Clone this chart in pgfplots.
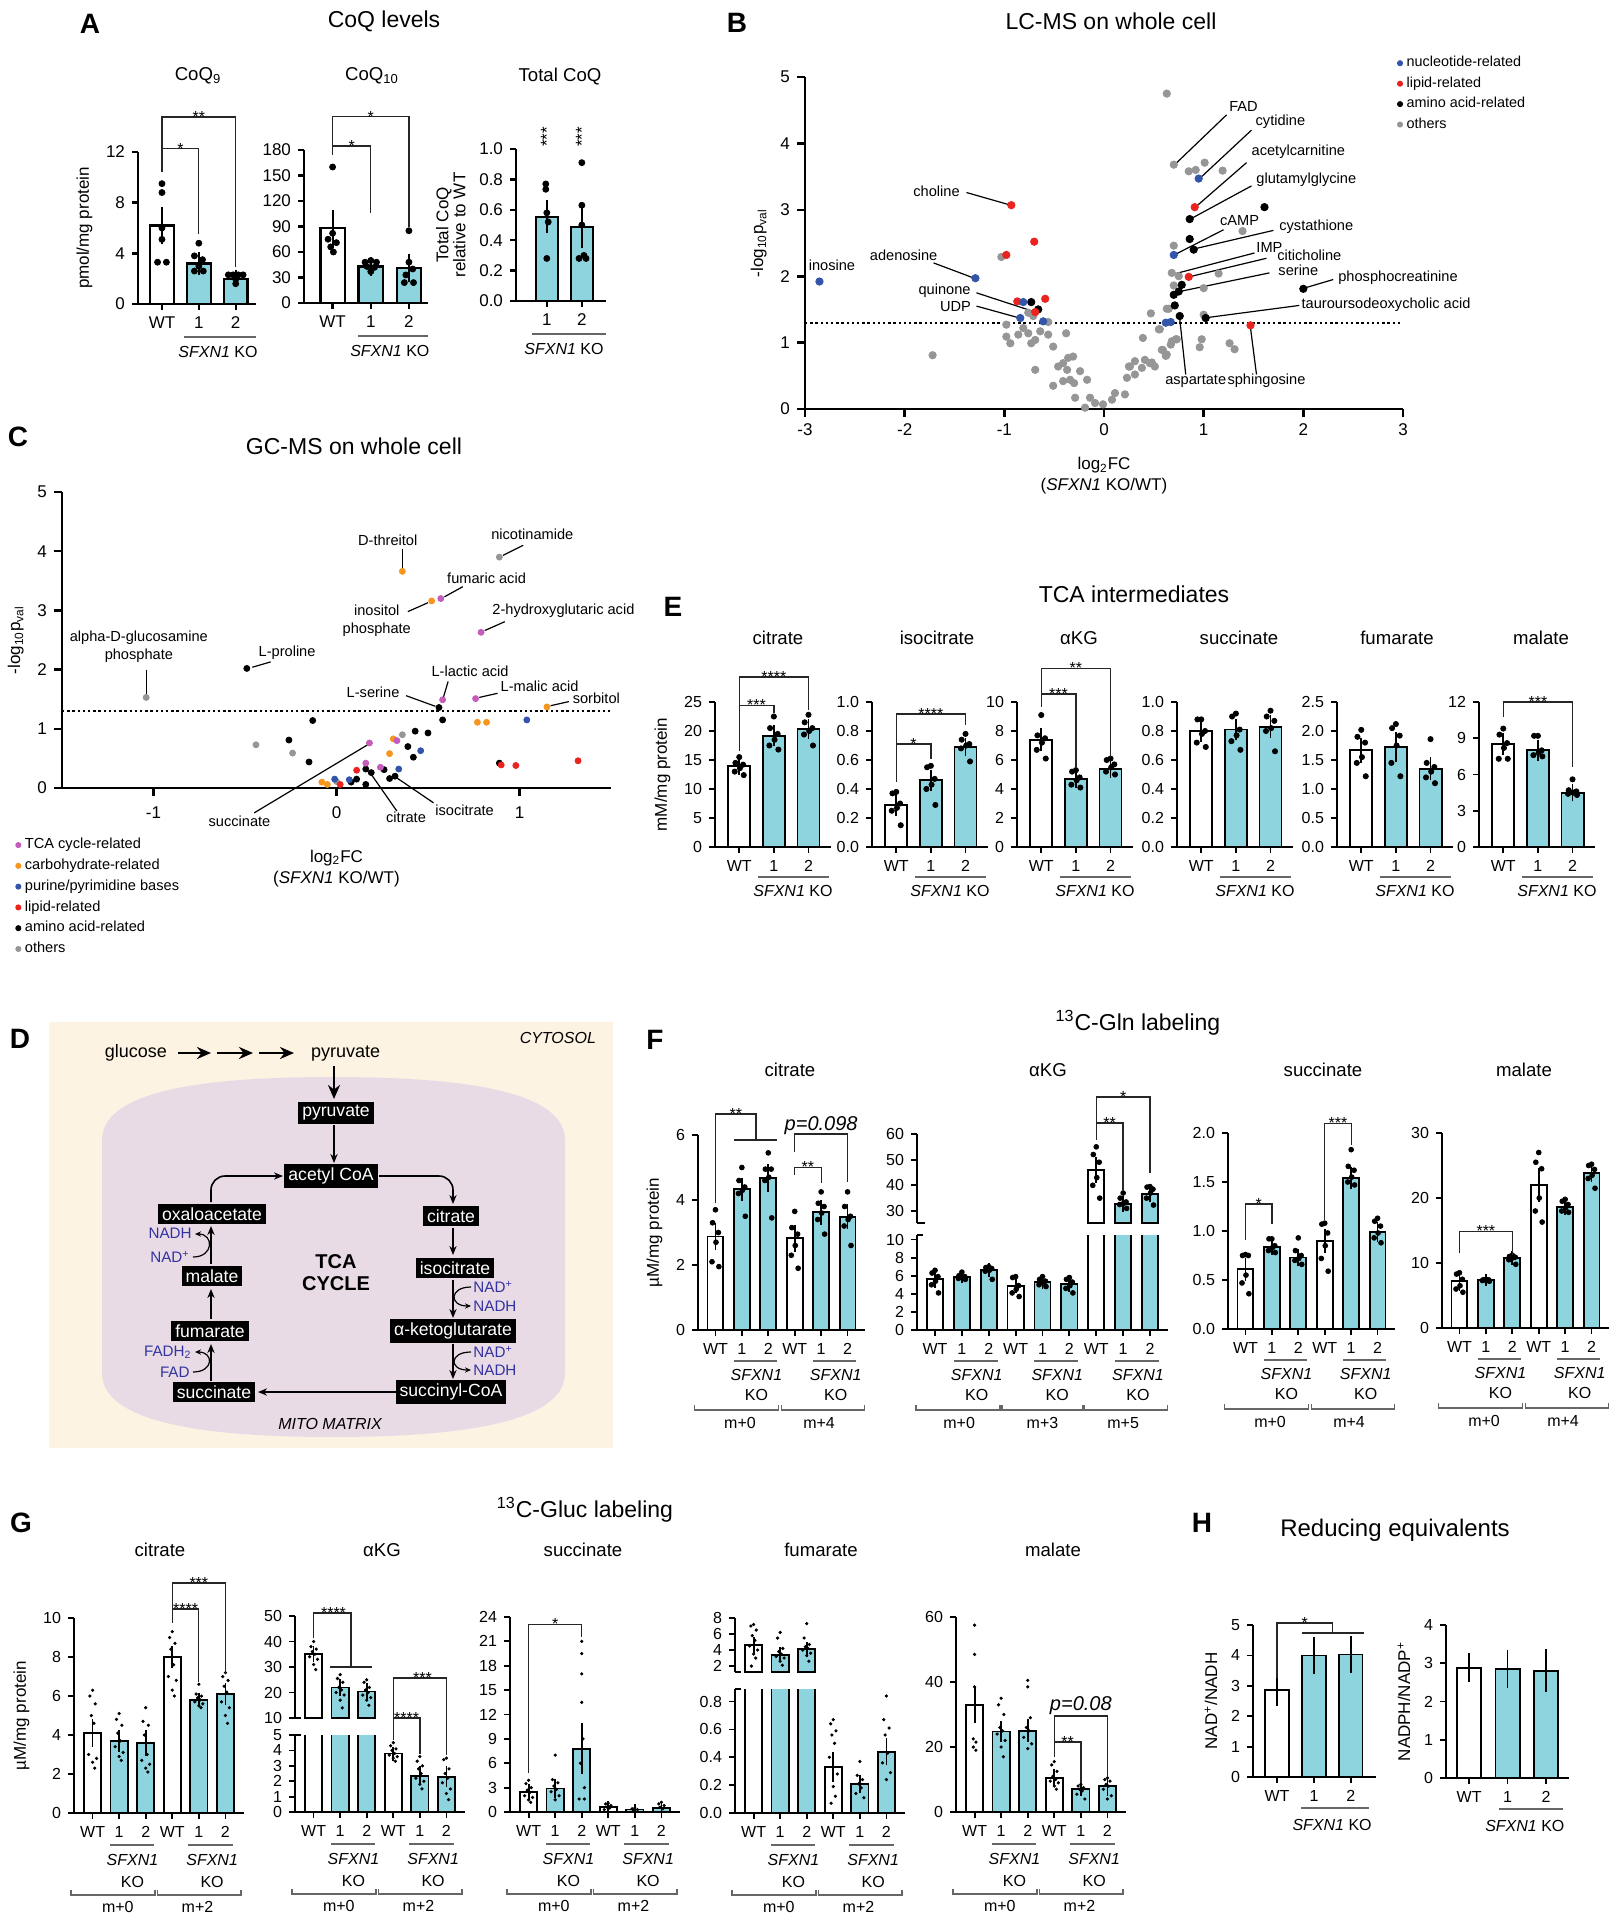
\documentclass[border=0pt]{standalone}
\usepackage{fontspec}
\setmainfont{Liberation Sans}
\usepackage{pgfplots}
\pgfplotsset{compat=1.18}
\usetikzlibrary{arrows.meta}
\definecolor{cy}{RGB}{141,212,222}
\definecolor{nblue}{RGB}{50,85,170}
\definecolor{lred}{RGB}{235,35,30}
\definecolor{ogray}{RGB}{150,150,150}
\definecolor{tcam}{RGB}{196,92,188}
\definecolor{carbo}{RGB}{247,150,30}
\definecolor{cream}{RGB}{253,243,226}
\definecolor{mauve}{RGB}{233,219,229}
\definecolor{dblue}{RGB}{50,50,160}
\newcommand\fs[1]{\fontsize{#1}{#1}\selectfont}
\tikzset{
 tl/.style={font=\fs{8}, inner sep=0pt, anchor=center},
 bk/.style={line width=0.65pt, black!85},
 st/.style={font=\fs{8}, anchor=base, yshift=-2.6pt, inner sep=0pt},
 ul/.style={line width=0.6pt, black!60},
 lab/.style={font=\fs{7.3}, inner sep=0pt},
 ld/.style={line width=0.6pt, black},
 ar/.style={-{Stealth[length=4.5pt,width=3.6pt]}, line width=0.8pt},
 car/.style={-{Stealth[length=3pt,width=2.6pt]}, line width=0.6pt},
 bx/.style={fill=black, text=white, font=\fs{8.8}, inner xsep=2pt, inner ysep=1.8pt},
 cof/.style={font=\fs{7.6}, text=dblue, inner sep=0.5pt},
}
\newcommand\koone[3]{%
 \draw[ul] ([yshift=-\ulY]axis cs:#1,0) -- ([yshift=-\ulY]axis cs:#2,0);
 \node[tl] at ([yshift=-\skY]axis cs:#3,0) {\textit{SFXN1} KO};}
\newcommand\koann[3]{%
 \draw[ul] ([yshift=-\ulY]axis cs:#1,0) -- ([yshift=-\ulY]axis cs:#2,0);
 \node[tl] at ([yshift=-\skY]axis cs:#3,0) {\textit{SFXN1}};
 \node[tl] at ([yshift=-\koY]axis cs:#3,0) {KO};}
\newcommand\grpann[4]{%
 \draw[ul] ([yshift=-\gbY+2.5pt]axis cs:#1,0) -- ([yshift=-\gbY]axis cs:#1,0) -- ([yshift=-\gbY]axis cs:#2,0) -- ([yshift=-\gbY+2.5pt]axis cs:#2,0);
 \node[tl] at ([yshift=-\gmY]axis cs:#3,0) {#4};}
\pgfplotsset{
 pos/.style 2 args={at={({#1*0.5pt},{-#2*0.5pt})}, anchor=south west},
 bp/.style={scale only axis, axis lines=left, axis line style={-, line width=0.9pt}, tick style={black, line width=0.9pt}, major tick length=3pt, tick align=outside, ticklabel style={font=\fs{8}}, label style={font=\fs{8.5}}, ymin=0, clip mode=individual},
 b3/.style={bp, xmin=-0.7, xmax=2.65, xtick={0,1,2}, xticklabels={WT,1,2}},
 b6/.style={bp, xmin=-0.66, xmax=5.66, xtick={0,1,2,3,4,5}, xticklabels={WT,1,2,WT,1,2}},
 wb/.style={ybar, bar shift=0pt, bar width=0.64, fill=white, draw=black, line width=0.9pt, /pgfplots/error bars/y dir=both, /pgfplots/error bars/y explicit, /pgfplots/error bars/error bar style={line width=0.9pt, black}, /pgfplots/error bars/error mark options={mark size=2.5pt, line width=0.9pt, black}},
 cb/.style={wb, fill=cy},
 dt/.style={only marks, mark=*, mark size=#1, black, mark options={fill=black, draw=black}},
 dt/.default=1.3pt,
}
\begin{document}
\begin{tikzpicture}
\begin{scope}[x=0.5pt,y=-0.5pt]
\path[use as bounding box] (0,0) rectangle (1618,1920);
% ---------- titles
\node[font=\bfseries\fs{14}] at (90,24) {A};
\node[font=\fs{11.5}] at (384,21) {CoQ levels};
\node[font=\fs{9.3}] at (198,76) {CoQ\textsubscript{9}};
\node[font=\fs{9.3}] at (372,76) {CoQ\textsubscript{10}};
\node[font=\fs{9.3}] at (560,77) {Total CoQ};
\node[font=\bfseries\fs{14}] at (737,23) {B};
\node[font=\fs{11.5}] at (1111,21) {LC-MS on whole cell};
\node[font=\bfseries\fs{14}] at (18,437) {C};
\node[font=\fs{11.5}] at (354,446) {GC-MS on whole cell};
\node[font=\bfseries\fs{14}] at (20,1039) {D};
\node[font=\bfseries\fs{14}] at (673,607) {E};
\node[font=\fs{11.5}] at (1134,594) {TCA intermediates};
\foreach \xx/\tt in {778/citrate,937/isocitrate,1079/αKG,1239/succinate,1397/fumarate,1541/malate}
 \node[font=\fs{9.3}] at (\xx,638) {\tt};
\node[font=\bfseries\fs{14}] at (655,1040) {F};
\node[font=\fs{11.5}] at (1138,1023) {\textsuperscript{13}C-Gln labeling};
\foreach \xx/\tt in {790/citrate,1048/αKG,1323/succinate,1524/malate}
 \node[font=\fs{9.3}] at (\xx,1070) {\tt};
\node[font=\bfseries\fs{14}] at (21,1523) {G};
\node[font=\fs{11.5}] at (585,1510) {\textsuperscript{13}C-Gluc labeling};
\foreach \xx/\tt in {160/citrate,382/αKG,583/succinate,821/fumarate,1053/malate}
 \node[font=\fs{9.3}] at (\xx,1550) {\tt};
\node[font=\bfseries\fs{14}] at (1202,1523) {H};
\node[font=\fs{12}] at (1395,1530) {Reducing equivalents};
% ---------- D diagram
\fill[cream] (49,1022) rectangle (613,1448);
\fill[mauve] (102,1373) -- (102,1140) .. controls (102,1088) and (215,1077) .. (332,1077) .. controls (450,1077) and (565,1088) .. (565,1140) -- (565,1373) .. controls (565,1425) and (450,1437) .. (332,1437) .. controls (215,1437) and (102,1425) .. (102,1373) -- cycle;
\node[font=\itshape\fs{8}, anchor=east] at (603,1038) {CYTOSOL};
\node[font=\itshape\fs{8}] at (330,1424) {MITO MATRIX};
\node[font=\fs{9}, anchor=east] at (174,1053) {glucose};
\foreach \a/\b in {178/211, 217/253, 259/294} \draw[-{Stealth[length=7pt,width=6pt]}, line width=1.4pt] (\a,1053) -- (\b,1053);
\node[font=\fs{9}, anchor=west] at (304,1054) {pyruvate};
\draw[-{Stealth[length=7pt,width=6pt]}, line width=1.4pt] (334,1066) -- (334,1099);
\node[bx] at (336,1113) {pyruvate};
\node[bx] at (331,1176) {acetyl CoA};
\node[bx] at (212,1214) {oxaloacetate};
\node[bx] at (451,1216) {citrate};
\node[bx] at (455,1268) {isocitrate};
\node[bx] at (453,1331) {α-ketoglutarate};
\node[bx] at (451,1392) {succinyl-CoA};
\node[bx] at (214,1392) {succinate};
\node[bx] at (210,1331) {fumarate};
\node[bx] at (212,1276) {malate};
\node[font=\bfseries\fs{10}, align=center] at (336,1273) {TCA\\[1pt]CYCLE};
\draw[ar] (334,1125) -- (334,1163);
\draw[ar, rounded corners=7pt] (379,1176) -- (453,1176) -- (453,1204);
\draw[ar, rounded corners=7pt] (211,1202) -- (211,1176) -- (283,1176);
\draw[ar] (453,1228) -- (453,1255);
\draw[ar] (453,1280) -- (453,1318);
\draw[ar] (453,1344) -- (453,1379);
\draw[ar] (398,1392) -- (258,1392);
\draw[ar] (211,1381) -- (211,1344);
\draw[ar] (211,1319) -- (211,1289);
\draw[ar] (211,1264) -- (211,1226);
\draw[car] (471,1287) .. controls (449,1287) and (449,1306) .. (471,1306);
\node[cof, anchor=west] at (472,1287) {NAD\textsuperscript{+}};
\node[cof, anchor=west] at (472,1306) {NADH};
\draw[car] (471,1352) .. controls (449,1352) and (449,1370) .. (471,1370);
\node[cof, anchor=west] at (472,1352) {NAD\textsuperscript{+}};
\node[cof, anchor=west] at (472,1370) {NADH};
\draw[car] (193,1372) .. controls (214,1372) and (214,1352) .. (195,1352);
\node[cof, anchor=east] at (193,1352) {FADH\textsubscript{2}};
\node[cof, anchor=east] at (191,1372) {FAD};
\draw[car] (193,1257) .. controls (214,1257) and (214,1234) .. (195,1234);
\node[cof, anchor=east] at (193,1233) {NADH};
\node[cof, anchor=east] at (191,1257) {NAD\textsuperscript{+}};
\end{scope}

% ================= A
\def\ulY{16.5pt}\def\skY{24pt}
\begin{axis}[b3, pos={138}{304}, width=59pt, height=76pt, xmin=-0.65, xmax=2.55, ymax=12, ytick={0,4,8,12}, yticklabels={0,4,8,12}, ylabel={pmol/mg protein}, axis line style={-,line width=1.2pt}, tick style={line width=1.2pt}, ticklabel style={font=\fs{8.5}}]
\addplot[wb, line width=1.1pt] coordinates {(0,6.2) +- (0,1.1)};
\addplot[cb, line width=1.1pt] coordinates {(1,3.2) +- (0,0.5) (2,2.0) +- (0,0.25)};
\addplot[dt=1.5pt] coordinates {(0,9.5) (0,8.8) (0,6.0) (0,5.1) (-0.12,3.3) (0.12,3.3) (1,4.8) (0.88,3.8) (1.1,3.5) (1,3.0) (0.88,2.6) (1.12,2.6) (1.8,2.3) (1.93,2.3) (2.07,2.3) (2.2,2.3) (2,1.95) (2,1.6)};
\draw[bk] (axis cs:0,10.4) -- (axis cs:0,14.76) -- (axis cs:2,14.76) -- (axis cs:2,2.9);
\draw[bk] (axis cs:0,12.25) -- (axis cs:1,12.25) -- (axis cs:1,5.5);
\node[st] at (axis cs:0.5,12.25) {*};
\node[st] at (axis cs:1,14.76) {**};
\koone{0.6}{2.55}{1.52}
\end{axis}
\begin{axis}[b3, pos={304}{303}, width=62pt, height=76.5pt, xmin=-0.75, xmax=2.5, ymax=180, ytick={0,30,60,90,120,150,180}, yticklabels={0,30,60,90,120,150,180}, axis line style={-,line width=1.2pt}, tick style={line width=1.2pt}, ticklabel style={font=\fs{8.5}}]
\addplot[wb, line width=1.1pt] coordinates {(0,88) +- (0,15)};
\addplot[cb, line width=1.1pt] coordinates {(1,43) +- (0,5) (2,41) +- (0,11)};
\addplot[dt=1.5pt] coordinates {(0,160) (0,82) (-0.12,75) (0.1,71) (-0.05,66) (0.02,60) (0.85,48) (1,50) (1.15,48) (0.9,43) (1.1,42) (1,37) (2,85) (2,48) (2.1,40) (1.92,33) (1.88,24) (2.12,24)};
\draw[bk] (axis cs:0,174) -- (axis cs:0,219) -- (axis cs:2,219) -- (axis cs:2,89.5);
\draw[bk] (axis cs:0,184.7) -- (axis cs:1,184.7) -- (axis cs:1,106);
\node[st] at (axis cs:0.5,184.7) {*};
\node[st] at (axis cs:1,219) {*};
\koone{0.67}{2.5}{1.5}
\end{axis}
\begin{axis}[bp, pos={516}{301}, width=45pt, height=76pt, xmin=0.12, xmax=2.69, xtick={1,2}, xticklabels={1,2}, ymax=1, ytick={0,0.2,0.4,0.6,0.8,1}, yticklabels={0.0,0.2,0.4,0.6,0.8,1.0}, ylabel={Total CoQ\\relative to WT}, ylabel style={align=center}, axis line style={-,line width=1.2pt}, tick style={line width=1.2pt}, ticklabel style={font=\fs{8.5}}]
\addplot[cb, line width=1.1pt] coordinates {(1,0.555) +- (0,0.078) (2,0.485) +- (0,0.105)};
\addplot[dt=1.5pt] coordinates {(0.97,0.77) (0.97,0.735) (1,0.58) (1.04,0.52) (1,0.28) (2,0.91) (2,0.63) (2,0.5) (1.92,0.28) (2.06,0.3) (2.12,0.28)};
\node[rotate=90, font=\fs{8.5}] at (axis cs:1,1.08) {***};
\node[rotate=90, font=\fs{8.5}] at (axis cs:2,1.08) {***};
\koone{0.58}{2.69}{1.49}
\end{axis}

% ================= B
\begin{axis}[scale only axis, pos={805}{409}, width=299pt, height=166pt, xmin=-3, xmax=3, ymin=0, ymax=5, axis lines=left, axis line style={-, line width=1.3pt}, tick style={black, line width=1.3pt}, major tick length=4pt, tick align=outside, xtick={-3,-2,-1,0,1,2,3}, xticklabels={-3,-2,-1,0,1,2,3}, ytick={0,1,2,3,4,5}, yticklabels={0,1,2,3,4,5}, ticklabel style={font=\fs{8.5}}, clip=false,
 xlabel={log\textsubscript{2}FC\\(\textit{SFXN1} KO/WT)}, xlabel style={align=center, font=\fontsize{8.5}{10.5}\selectfont, at={(axis description cs:0.5,-0.125)}, anchor=north},
 ylabel={-log\textsubscript{10}p\textsubscript{val}}, ylabel style={font=\fs{8.5}},
 legend image code/.code={\draw[#1, mark size=1.3pt] plot coordinates {(0.1cm,0cm)};},
 legend style={at={(0.99,1.075)}, anchor=north west, draw=none, fill=none, font=\fs{7.2}, row sep=-0.5pt, inner sep=0pt}, legend cell align=left, reverse legend]
\addplot[black, line width=1.1pt, dash pattern=on 1.2pt off 1.4pt, forget plot] coordinates {(-3,1.3) (3,1.3)};
\addplot[only marks, mark=*, mark size=1.85pt, color=ogray] coordinates {(-1.03,2.29) (-1.72,0.81) (-0.98,1.27) (-0.98,1.09) (-0.94,0.99) (-0.86,1.12) (-0.81,1.22) (-0.76,1.14) (-0.73,0.99) (-0.69,1.04) (-0.64,1.17) (-0.56,1.31) (-0.56,1.12) (-0.51,0.94) (-0.38,1.14) (-0.69,0.59) (-0.51,0.35) (-0.46,0.64) (-0.41,0.69) (-0.36,0.77) (-0.31,0.79) (-0.37,0.59) (-0.34,0.44) (-0.41,0.42) (-0.30,0.39) (-0.24,0.57) (-0.17,0.44) (-0.29,0.17) (-0.19,0.02) (-0.14,0.17) (-0.09,0.09) (-0.01,0.07) (0.08,0.14) (0.11,0.24) (0.21,0.22) (0.23,0.47) (0.31,0.52) (0.26,0.64) (0.31,0.72) (0.38,0.62) (0.41,0.74) (0.46,0.69) (0.51,0.64) (0.39,1.07) (0.47,1.44) (0.55,1.20) (0.58,0.89) (0.63,0.82) (0.68,1.02) (0.73,1.05) (0.63,1.51) (0.63,4.75) (0.70,3.68) (0.85,3.58) (0.92,3.60) (1.01,3.71) (1.19,3.59) (1.39,2.68) (0.70,2.46) (0.68,2.05) (0.75,2.0) (1.15,2.04) (0.70,1.86) (1.0,1.82) (0.65,1.51) (1.0,1.42) (0.56,1.20) (0.72,1.05) (0.67,0.97) (0.98,1.05) (0.96,0.93) (1.26,0.99) (1.31,0.90) (0.59,0.89) (0.62,0.80) (-0.76,1.45) (-0.71,1.40) (0.25,0.64) (0.48,0.70)};
\addlegendentry{others}
\addplot[only marks, mark=*, mark size=1.85pt, color=black] coordinates {(-0.73,1.61) (-0.66,1.50) (0.86,2.86) (1.61,3.04) (0.86,2.56) (0.90,2.40) (0.78,1.87) (0.75,1.77) (0.70,1.72) (2.0,1.81) (0.71,1.56) (0.76,1.40) (1.02,1.37)};
\addlegendentry{amino acid-related}
\addplot[only marks, mark=*, mark size=1.85pt, color=lred] coordinates {(-0.93,3.07) (-0.70,2.52) (-0.98,2.32) (-0.87,1.62) (-0.59,1.66) (-0.69,1.46) (0.91,3.04) (0.85,1.99) (1.47,1.26)};
\addlegendentry{lipid-related}
\addplot[only marks, mark=*, mark size=1.85pt, color=nblue] coordinates {(-2.855,1.92) (-1.29,1.97) (-0.81,1.61) (-0.84,1.37) (-0.61,1.32) (0.95,3.47) (0.70,2.32) (0.62,1.30) (0.67,1.31)};
\addlegendentry{nucleotide-related}
\node[lab] at (axis cs:-1.68,3.28) {choline}; \draw[ld] (axis cs:-1.38,3.26) -- (axis cs:-0.96,3.08);
\node[lab] at (axis cs:-2.01,2.31) {adenosine}; \draw[ld] (axis cs:-1.71,2.20) -- (axis cs:-1.32,1.98);
\node[lab] at (axis cs:-2.73,2.17) {inosine};
\node[lab] at (axis cs:-1.60,1.78) {quinone}; \draw[ld] (axis cs:-1.28,1.75) -- (axis cs:-0.71,1.47);
\node[lab] at (axis cs:-1.49,1.55) {UDP}; \draw[ld] (axis cs:-1.28,1.55) -- (axis cs:-0.87,1.38);
\node[lab] at (axis cs:1.40,4.55) {FAD}; \draw[ld] (axis cs:1.23,4.43) -- (axis cs:0.73,3.71);
\node[lab] at (axis cs:1.77,4.32) {cytidine}; \draw[ld] (axis cs:1.48,4.20) -- (axis cs:0.98,3.50);
\node[lab] at (axis cs:1.95,3.88) {acetylcarnitine}; \draw[ld] (axis cs:1.43,3.71) -- (axis cs:0.94,3.07);
\node[lab] at (axis cs:2.03,3.45) {glutamylglycine}; \draw[ld] (axis cs:1.48,3.36) -- (axis cs:0.89,2.88);
\node[lab] at (axis cs:1.36,2.84) {cAMP}; \draw[ld] (axis cs:1.20,2.70) -- (axis cs:0.73,2.34);
\node[lab] at (axis cs:2.13,2.74) {cystathione}; \draw[ld] (axis cs:1.70,2.69) -- (axis cs:0.93,2.42);
\node[lab] at (axis cs:1.66,2.44) {IMP}; \draw[ld] (axis cs:1.51,2.35) -- (axis cs:0.72,2.04);
\node[lab] at (axis cs:2.06,2.32) {citicholine}; \draw[ld] (axis cs:1.63,2.27) -- (axis cs:0.88,2.0);
\node[lab] at (axis cs:1.95,2.09) {serine}; \draw[ld] (axis cs:1.66,2.05) -- (axis cs:0.76,1.77);
\node[lab] at (axis cs:2.95,1.98) {phosphocreatinine}; \draw[ld] (axis cs:2.30,1.95) -- (axis cs:2.03,1.83);
\node[lab] at (axis cs:2.83,1.57) {tauroursodeoxycholic acid}; \draw[ld] (axis cs:1.96,1.56) -- (axis cs:1.05,1.38);
\node[lab] at (axis cs:0.92,0.42) {aspartate}; \draw[ld] (axis cs:0.82,0.52) -- (axis cs:0.76,1.36);
\node[lab] at (axis cs:1.63,0.42) {sphingosine}; \draw[ld] (axis cs:1.53,0.52) -- (axis cs:1.47,1.22);
\end{axis}

% ================= C
\begin{axis}[scale only axis, pos={62}{788}, width=274.5pt, height=148pt, xmin=-1.5, xmax=1.5, ymin=0, ymax=5, axis lines=left, axis line style={-, line width=1.2pt}, tick style={black, line width=1.2pt}, major tick length=4pt, tick align=outside, xtick={-1,0,1}, xticklabels={-1,0,1}, ytick={0,1,2,3,4,5}, yticklabels={0,1,2,3,4,5}, ticklabel style={font=\fs{8.5}}, xticklabel style={yshift=-2pt}, clip=false,
 xlabel={log\textsubscript{2}FC\\(\textit{SFXN1} KO/WT)}, xlabel style={align=center, font=\fontsize{8.5}{10.5}\selectfont, at={(axis description cs:0.5,-0.185)}, anchor=north},
 ylabel={-log\textsubscript{10}p\textsubscript{val}}, ylabel style={font=\fs{8.5}},
 legend image code/.code={\draw[#1, mark size=1.3pt] plot coordinates {(0.1cm,0cm)};},
 legend style={at={(-0.085,-0.155)}, anchor=north west, draw=none, fill=none, font=\fs{7.3}, row sep=-0.4pt, inner sep=0pt}, legend cell align=left, reverse legend]
\addplot[black, line width=1.1pt, dash pattern=on 1.2pt off 1.4pt, forget plot] coordinates {(-1.5,1.3) (1.5,1.3)};
\addplot[only marks, mark=*, mark size=1.5pt, color=ogray] coordinates {(-1.04,1.53) (0.89,3.90) (-0.44,0.73) (-0.24,0.59) (0.36,0.90) (0.0,0.11)};
\addlegendentry{others}
\addplot[only marks, mark=*, mark size=1.5pt, color=black] coordinates {(-0.49,2.02) (0.56,1.36) (0.58,1.15) (-0.13,1.14) (-0.26,0.81) (-0.15,0.44) (0.43,0.96) (0.50,0.93) (0.39,0.70) (0.42,0.52) (0.16,0.32) (0.19,0.26) (0.26,0.31) (0.29,0.16) (0.32,0.20) (0.11,0.15) (0.08,0.10) (0.16,0.06) (0.89,0.42)};
\addlegendentry{amino acid-related}
\addplot[only marks, mark=*, mark size=1.5pt, color=lred] coordinates {(0.11,0.30) (0.02,0.06) (0.90,0.39) (0.98,0.38) (1.32,0.46)};
\addlegendentry{lipid-related}
\addplot[only marks, mark=*, mark size=1.5pt, color=nblue] coordinates {(1.04,1.15) (0.46,0.63) (0.34,0.32) (0.07,0.14) (-0.01,0.15)};
\addlegendentry{purine/pyrimidine bases}
\addplot[only marks, mark=*, mark size=1.5pt, color=carbo] coordinates {(0.36,3.66) (0.52,3.16) (1.15,1.37) (0.77,1.11) (0.82,1.11) (0.31,0.83) (0.29,0.58) (-0.08,0.10) (-0.05,0.06)};
\addlegendentry{carbohydrate-related}
\addplot[only marks, mark=*, mark size=1.5pt, color=tcam] coordinates {(0.57,3.20) (0.79,2.63) (0.58,1.49) (0.76,1.51) (0.18,0.76) (0.33,0.80) (0.16,0.42) (0.24,0.35)};
\addlegendentry{TCA cycle-related}
\node[lab, align=center, font=\fontsize{7.3}{9.2}\selectfont] at (axis cs:-1.08,2.39) {alpha-D-glucosamine\\phosphate}; \draw[ld] (axis cs:-1.04,2.0) -- (axis cs:-1.04,1.58);
\node[lab] at (axis cs:-0.27,2.29) {L-proline}; \draw[ld] (axis cs:-0.36,2.13) -- (axis cs:-0.46,2.04);
\node[lab] at (axis cs:0.28,4.19) {D-threitol}; \draw[ld] (axis cs:0.36,4.04) -- (axis cs:0.36,3.71);
\node[lab] at (axis cs:1.07,4.28) {nicotinamide}; \draw[ld] (axis cs:1.02,4.10) -- (axis cs:0.91,3.93);
\node[lab] at (axis cs:0.82,3.55) {fumaric acid}; \draw[ld] (axis cs:0.69,3.40) -- (axis cs:0.59,3.23);
\node[lab, align=center, font=\fontsize{7.3}{9.2}\selectfont] at (axis cs:0.22,2.83) {inositol\\phosphate}; \draw[ld] (axis cs:0.39,2.98) -- (axis cs:0.50,3.13);
\node[lab] at (axis cs:1.24,2.99) {2-hydroxyglutaric acid}; \draw[ld] (axis cs:0.92,2.81) -- (axis cs:0.81,2.66);
\node[lab] at (axis cs:0.73,1.98) {L-lactic acid}; \draw[ld] (axis cs:0.61,1.80) -- (axis cs:0.585,1.54);
\node[lab] at (axis cs:0.20,1.62) {L-serine}; \draw[ld] (axis cs:0.38,1.56) -- (axis cs:0.54,1.38);
\node[lab] at (axis cs:1.11,1.72) {L-malic acid}; \draw[ld] (axis cs:0.88,1.60) -- (axis cs:0.78,1.53);
\node[lab] at (axis cs:1.42,1.51) {sorbitol}; \draw[ld] (axis cs:1.27,1.46) -- (axis cs:1.17,1.39);
\node[lab] at (axis cs:-0.53,-0.57) {succinate}; \draw[ld] (axis cs:-0.45,-0.42) -- (axis cs:0.17,0.73);
\node[lab] at (axis cs:0.38,-0.49) {citrate}; \draw[ld] (axis cs:0.33,-0.39) -- (axis cs:0.19,0.23);
\node[lab] at (axis cs:0.70,-0.38) {isocitrate}; \draw[ld] (axis cs:0.53,-0.25) -- (axis cs:0.33,0.17);
\end{axis}

% ================= E
\def\ulY{15pt}\def\skY{22pt}
\begin{axis}[b3, pos={715}{847}, width=58pt, height=72.5pt, ymax=25, ytick={0,5,10,15,20,25}, yticklabels={0,5,10,15,20,25}, ylabel={mM/mg protein}]
\addplot[wb] coordinates {(0,13.9) +- (0,0.6)};
\addplot[cb] coordinates {(1,19.2) +- (0,0.9) (2,20.3) +- (0,0.85)};
\addplot[dt] coordinates {(0,15.5) (-0.11,14.5) (0.11,14.2) (0.02,13.6) (-0.13,13.0) (0.13,12.4) (1,22.5) (0.89,20.5) (1.11,19.5) (1.02,18.5) (0.87,17.5) (1.13,16.8) (2,22.8) (1.89,21.5) (2.11,20.5) (2.02,20) (1.87,19.4) (2.13,17.5)};
\draw[bk] (axis cs:0,16.5) -- (axis cs:0,29.3) -- (axis cs:2,29.3) -- (axis cs:2,23.6);
\draw[bk] (axis cs:0,24.4) -- (axis cs:1,24.4) -- (axis cs:1,23.1);
\node[st] at (axis cs:1,29.3) {****}; \node[st] at (axis cs:0.5,24.4) {***};
\koone{0.55}{2.6}{1.55}
\end{axis}
\begin{axis}[b3, pos={872}{847}, width=58pt, height=72.5pt, ymax=1, ytick={0,0.2,0.4,0.6,0.8,1}, yticklabels={0.0,0.2,0.4,0.6,0.8,1.0}]
\addplot[wb] coordinates {(0,0.29) +- (0,0.04)};
\addplot[cb] coordinates {(1,0.46) +- (0,0.04) (2,0.69) +- (0,0.025)};
\addplot[dt] coordinates {(0,0.38) (-0.11,0.37) (0.11,0.30) (0.02,0.27) (-0.13,0.25) (0.13,0.15) (1,0.56) (0.89,0.55) (1.11,0.47) (1.02,0.43) (0.87,0.40) (1.13,0.29) (2,0.78) (1.89,0.74) (2.11,0.71) (2.02,0.70) (1.87,0.68) (2.13,0.59)};
\draw[bk] (axis cs:0,0.45) -- (axis cs:0,0.917) -- (axis cs:2,0.917) -- (axis cs:2,0.84);
\draw[bk] (axis cs:0,0.71) -- (axis cs:1,0.71) -- (axis cs:1,0.61);
\node[st] at (axis cs:1,0.917) {****}; \node[st] at (axis cs:0.5,0.71) {*};
\koone{0.55}{2.6}{1.55}
\end{axis}
\begin{axis}[b3, pos={1017}{847}, width=58pt, height=72.5pt, ymax=10, ytick={0,2,4,6,8,10}, yticklabels={0,2,4,6,8,10}]
\addplot[wb] coordinates {(0,7.4) +- (0,0.45)};
\addplot[cb] coordinates {(1,4.7) +- (0,0.3) (2,5.4) +- (0,0.3)};
\addplot[dt] coordinates {(0,9.1) (-0.11,7.7) (0.11,7.5) (0.02,7.2) (-0.13,6.7) (0.13,6.1) (1,5.3) (0.89,5.2) (1.11,4.8) (1.02,4.6) (0.87,4.3) (1.13,4.1) (2,6.1) (1.89,6.0) (2.11,5.7) (2.02,5.5) (1.87,5.2) (2.13,5.0)};
\draw[bk] (axis cs:0,9.65) -- (axis cs:0,12.3) -- (axis cs:2,12.3) -- (axis cs:2,6.2);
\draw[bk] (axis cs:0,10.55) -- (axis cs:1,10.55) -- (axis cs:1,5.45);
\node[st] at (axis cs:1,12.3) {**}; \node[st] at (axis cs:0.5,10.55) {***};
\koone{0.55}{2.6}{1.55}
\end{axis}
\begin{axis}[b3, pos={1177}{847}, width=58pt, height=72.5pt, ymax=1, ytick={0,0.2,0.4,0.6,0.8,1}, yticklabels={0.0,0.2,0.4,0.6,0.8,1.0}]
\addplot[wb] coordinates {(0,0.80) +- (0,0.04)};
\addplot[cb] coordinates {(1,0.81) +- (0,0.04) (2,0.83) +- (0,0.045)};
\addplot[dt] coordinates {(0,0.88) (-0.11,0.88) (0.11,0.80) (0.02,0.78) (-0.13,0.72) (0.13,0.69) (1,0.92) (0.89,0.90) (1.11,0.81) (1.02,0.77) (0.87,0.73) (1.13,0.67) (2,0.94) (1.89,0.90) (2.11,0.87) (2.02,0.82) (1.87,0.80) (2.13,0.66)};
\koone{0.55}{2.6}{1.55}
\end{axis}
\begin{axis}[b3, pos={1337}{847}, width=58pt, height=72.5pt, ymax=2.5, ytick={0,0.5,1,1.5,2,2.5}, yticklabels={0.0,0.5,1.0,1.5,2.0,2.5}]
\addplot[wb] coordinates {(0,1.67) +- (0,0.13)};
\addplot[cb] coordinates {(1,1.73) +- (0,0.17) (2,1.35) +- (0,0.11)};
\addplot[dt] coordinates {(0,2.02) (-0.11,1.90) (0.11,1.80) (0.02,1.55) (-0.13,1.45) (0.13,1.22) (1,2.12) (0.89,2.05) (1.11,1.92) (1.02,1.75) (0.87,1.45) (1.13,1.22) (2,1.86) (1.89,1.45) (2.11,1.38) (2.02,1.30) (1.87,1.20) (2.13,1.10)};
\koone{0.55}{2.6}{1.55}
\end{axis}
\begin{axis}[b3, pos={1479}{847}, width=58pt, height=72.5pt, ymax=12, ytick={0,3,6,9,12}, yticklabels={0,3,6,9,12}]
\addplot[wb] coordinates {(0,8.5) +- (0,0.5)};
\addplot[cb] coordinates {(1,8.0) +- (0,0.45) (2,4.5) +- (0,0.3)};
\addplot[dt] coordinates {(0,9.8) (-0.11,9.3) (0.11,8.6) (0.02,8.2) (-0.13,7.3) (0.13,7.3) (1,9.2) (0.89,9.2) (1.11,8.0) (1.02,7.8) (0.87,7.6) (1.13,7.5) (2,5.6) (1.89,4.7) (2.11,4.6) (2.02,4.5) (1.87,4.4) (2.13,4.3)};
\draw[bk] (axis cs:0,10.76) -- (axis cs:0,12.0) -- (axis cs:2,12.0) -- (axis cs:2,6.6);
\node[st] at (axis cs:1,12.0) {***};
\koone{0.55}{2.6}{1.55}
\end{axis}

% ================= F
\def\ulY{15.5pt}\def\skY{22.5pt}\def\koY{32.5pt}\def\gbY{40pt}\def\gmY{46.5pt}
\begin{axis}[b6, pos={698}{1330}, width=83.5pt, height=97.5pt, ymax=6, ytick={0,2,4,6}, yticklabels={0,2,4,6}, ylabel={µM/mg protein}]
\addplot[wb, bar width=0.6] coordinates {(0,2.88) +- (0,0.27) (3,2.82) +- (0,0.27)};
\addplot[cb, bar width=0.6] coordinates {(1,4.33) +- (0,0.2) (2,4.68) +- (0,0.28) (4,3.62) +- (0,0.22) (5,3.48) +- (0,0.23)};
\addplot[dt=1.2pt] coordinates {(0,3.7) (-0.11,3.3) (0.11,3.0) (0.02,2.7) (-0.13,2.1) (0.13,1.95) (1,5.0) (0.89,4.6) (1.11,4.4) (1.02,4.3) (0.87,4.2) (1.13,3.5) (2,5.45) (1.89,4.95) (2.11,4.95) (2.02,4.7) (1.87,4.6) (2.13,3.45) (3,3.65) (2.89,3.15) (3.11,2.95) (3.02,2.6) (2.87,2.3) (3.13,1.9) (4,4.25) (3.89,3.9) (4.11,3.8) (4.02,3.6) (3.87,3.4) (4.13,2.95) (5,4.25) (4.89,3.8) (5.11,3.5) (5.02,3.4) (4.87,3.2) (5.13,2.6)};
\draw[bk] (axis cs:0,3.9) -- (axis cs:0,6.65) -- (axis cs:1.54,6.65) -- (axis cs:1.54,5.85);
\draw[bk] (axis cs:0.7,5.85) -- (axis cs:2.33,5.85);
\node[st] at (axis cs:0.77,6.65) {**};
\draw[bk] (axis cs:3,5.48) -- (axis cs:3,6.03) -- (axis cs:5,6.03) -- (axis cs:5,4.55);
\draw[bk] (axis cs:3,4.77) -- (axis cs:3,5.0) -- (axis cs:4,5.0) -- (axis cs:4,4.52);
\node[st] at (axis cs:3.5,5.0) {**};
\node[font=\itshape\fs{10}, anchor=base, inner sep=0pt] at (axis cs:4,6.15) {p=0.098};
\koann{0.7}{2.33}{1.55}\koann{3.7}{5.32}{4.55}
\grpann{-0.8}{2.4}{0.93}{m+0}\grpann{2.5}{5.63}{3.92}{m+4}
\end{axis}
\begin{axis}[bp, pos={917}{1330}, width=125.5pt, height=47.5pt, xmin=-0.67, xmax=8.67, xtick={0,1,2,3,4,5,6,7,8}, xticklabels={WT,1,2,WT,1,2,WT,1,2}, ymax=10.5, ytick={0,2,4,6,8,10}, yticklabels={0,2,4,6,8,10}]
\addplot[wb, bar width=0.6] coordinates {(0,5.6) +- (0,0.35) (3,4.9) +- (0,0.3) (6,46)};
\addplot[cb, bar width=0.6] coordinates {(1,5.85) +- (0,0.15) (2,6.6) +- (0,0.2) (4,5.3) +- (0,0.2) (5,5.1) +- (0,0.3) (7,32.5) (8,36.6)};
\addplot[dt=1.2pt] coordinates {(0,6.6) (-0.11,6.3) (0.11,5.9) (0.02,5.4) (-0.13,5.0) (0.13,4.1) (1,6.4) (0.89,6.0) (1.11,5.9) (1.02,5.8) (0.87,5.7) (1.13,5.6) (2,7.0) (1.89,6.9) (2.11,6.8) (2.02,6.6) (1.87,6.5) (2.13,5.6) (3,5.9) (2.89,5.8) (3.11,4.9) (3.02,4.5) (2.87,4.1) (3.13,3.7) (4,5.9) (3.89,5.6) (4.11,5.4) (4.02,5.2) (3.87,5.0) (4.13,4.8) (5,5.8) (4.89,5.6) (5.11,5.3) (5.02,4.9) (4.87,4.6) (5.13,4.1)};
\draw[line width=0.9pt] (axis cs:-0.67,10.5) -- ++(3pt,0pt);
\koann{0.7}{2.33}{1.55}\koann{3.7}{5.32}{4.55}\koann{6.7}{8.33}{7.55}
\grpann{-0.71}{2.42}{0.9}{m+0}\grpann{2.49}{5.5}{4}{m+3}\grpann{5.54}{8.66}{7}{m+5}
\end{axis}
\begin{axis}[bp, pos={917}{1223}, width=125.5pt, height=44.5pt, xmin=-0.67, xmax=8.67, axis x line=none, xtick=\empty, ymin=25.3, ymax=60, ytick={30,40,50,60}, yticklabels={30,40,50,60}]
\addplot[wb, bar width=0.6] coordinates {(6,46) +- (0,3)};
\addplot[cb, bar width=0.6] coordinates {(7,32.7) +- (0,1) (8,36.6) +- (0,1.3)};
\addplot[dt=1.2pt] coordinates {(6,55) (5.89,52) (6.11,49) (6.02,43) (5.87,40) (6.13,35) (7,37) (6.89,35) (7.11,33.5) (7.02,33) (6.87,32.5) (7.13,31) (8,39.5) (7.89,39.3) (8.11,38.5) (8.02,37) (7.87,35) (8.13,32.3)};
\draw[line width=0.9pt] (axis cs:-0.67,25.3) -- ++(4pt,0pt);
\draw[bk] (axis cs:6,57.7) -- (axis cs:6,74.4) -- (axis cs:8,74.4) -- (axis cs:8,44.8);
\draw[bk] (axis cs:6,64.3) -- (axis cs:7,64.3) -- (axis cs:7,38.2);
\node[st] at (axis cs:7,74.4) {*}; \node[st] at (axis cs:6.5,64.3) {**};
\end{axis}
\begin{axis}[b6, pos={1228}{1329}, width=83.5pt, height=98pt, ymax=2, ytick={0,0.5,1,1.5,2}, yticklabels={0.0,0.5,1.0,1.5,2.0}]
\addplot[wb, bar width=0.6] coordinates {(0,0.61) +- (0,0.065) (3,0.90) +- (0,0.07)};
\addplot[cb, bar width=0.6] coordinates {(1,0.84) +- (0,0.03) (2,0.73) +- (0,0.04) (4,1.54) +- (0,0.06) (5,0.99) +- (0,0.05)};
\addplot[dt=1.2pt] coordinates {(0,0.76) (-0.11,0.75) (0.11,0.75) (0.02,0.55) (-0.13,0.47) (0.13,0.36) (1,0.92) (0.89,0.92) (1.11,0.85) (1.02,0.83) (0.87,0.80) (1.13,0.78) (2,0.93) (1.89,0.80) (2.11,0.75) (2.02,0.72) (1.87,0.70) (2.13,0.66) (3,1.08) (2.89,1.07) (3.11,0.98) (3.02,0.85) (2.87,0.72) (3.13,0.59) (4,1.83) (3.89,1.66) (4.11,1.62) (4.02,1.55) (3.87,1.50) (4.13,1.47) (5,1.13) (4.89,1.10) (5.11,1.05) (5.02,0.98) (4.87,0.93) (5.13,0.88)};
\draw[bk] (axis cs:0,0.91) -- (axis cs:0,1.275) -- (axis cs:1,1.275) -- (axis cs:1,1.07);
\node[st] at (axis cs:0.5,1.275) {*};
\draw[bk] (axis cs:3,1.11) -- (axis cs:3,2.1) -- (axis cs:4,2.1) -- (axis cs:4,1.88);
\node[st] at (axis cs:3.5,2.1) {***};
\koann{0.7}{2.33}{1.55}\koann{3.7}{5.32}{4.55}
\grpann{-0.8}{2.4}{0.93}{m+0}\grpann{2.5}{5.63}{3.92}{m+4}
\end{axis}
\begin{axis}[b6, pos={1442}{1328}, width=83.5pt, height=97.5pt, ymax=30, ytick={0,10,20,30}, yticklabels={0,10,20,30}]
\addplot[wb, bar width=0.6] coordinates {(0,7.2) +- (0,0.7) (3,22.0) +- (0,1.8)};
\addplot[cb, bar width=0.6] coordinates {(1,7.4) +- (0,0.1) (2,10.8) +- (0,0.3) (4,18.6) +- (0,0.4) (5,23.8) +- (0,0.6)};
\addplot[dt=1.2pt] coordinates {(0,8.5) (-0.11,8.3) (0.11,7.5) (0.02,6.5) (-0.13,6.0) (0.13,5.5) (1,7.5) (0.89,7.4) (1.11,7.4) (1.02,7.3) (0.87,7.3) (1.13,7.2) (2,11.2) (1.89,11.0) (2.11,10.9) (2.02,10.8) (1.87,10.5) (2.13,9.8) (3,27) (2.89,25.5) (3.11,24.5) (3.02,20) (2.87,18) (3.13,16.3) (4,19.8) (3.89,19.5) (4.11,19) (4.02,18.5) (3.87,18) (4.13,17.8) (5,25.2) (4.89,25) (5.11,24.4) (5.02,23.5) (4.87,23) (5.13,21.5)};
\draw[bk] (axis cs:0,11.5) -- (axis cs:0,14.9) -- (axis cs:2,14.9) -- (axis cs:2,11.2);
\node[st] at (axis cs:1,14.9) {***};
\koann{0.7}{2.33}{1.55}\koann{3.7}{5.32}{4.55}
\grpann{-0.8}{2.4}{0.93}{m+0}\grpann{2.5}{5.63}{3.92}{m+4}
\end{axis}

% ================= G
\def\ulY{16pt}\def\skY{23.5pt}\def\koY{34.5pt}\def\gbY{41pt}\def\gmY{47pt}
\begin{axis}[b6, pos={74}{1813}, width=85pt, height=97.5pt, xmin=-0.7, xmax=5.7, ymax=10, ytick={0,2,4,6,8,10}, yticklabels={0,2,4,6,8,10}, ylabel={µM/mg protein}, axis line style={-,line width=1pt}]
\addplot[wb, bar width=0.65] coordinates {(0,4.1) +- (0,0.45) (3,8.0) +- (0,0.3)};
\addplot[cb, bar width=0.65] coordinates {(1,3.7) +- (0,0.3) (2,3.6) +- (0,0.4) (4,5.8) +- (0,0.1) (5,6.1) +- (0,0.3)};
\addplot[dt=0.6pt] coordinates {(0,6.3) (-0.1,6.0) (0.1,5.6) (-0.05,5.0) (0.05,4.6) (-0.15,3.0) (0.15,2.8) (0,2.6) (0.08,2.3) (1,5.1) (0.9,4.8) (1.1,4.5) (0.95,4.1) (1.05,3.7) (0.85,3.4) (1.15,3.1) (1,2.9) (1.08,2.7) (2,5.4) (1.9,4.7) (2.1,4.5) (1.95,4.0) (2.05,3.0) (1.85,2.7) (2.15,2.5) (2,2.3) (2.08,2.1) (3,9.3) (2.9,9.0) (3.1,8.7) (2.95,8.4) (3.05,7.6) (2.85,7.0) (3.15,6.8) (3,6.3) (3.08,6.0) (4,6.6) (3.9,6.1) (4.1,6.0) (3.95,5.9) (4.05,5.8) (3.85,5.7) (4.15,5.6) (4,5.5) (4.08,5.4) (5,7.2) (4.9,7.0) (5.1,6.8) (4.95,6.5) (5.05,6.2) (4.85,5.7) (5.15,5.4) (5,5.0) (5.08,4.6)};
\draw[bk] (axis cs:3,9.75) -- (axis cs:3,11.8) -- (axis cs:5,11.8) -- (axis cs:5,7.2);
\draw[bk] (axis cs:3,10.46) -- (axis cs:4,10.46) -- (axis cs:4,6.7);
\node[st] at (axis cs:4,11.8) {***}; \node[st] at (axis cs:3.5,10.46) {****};
\koann{0.66}{2.3}{1.5}\koann{3.6}{5.3}{4.5}
\grpann{-0.81}{2.35}{0.95}{m+0}\grpann{2.45}{5.59}{3.95}{m+2}
\end{axis}
\begin{axis}[b6, pos={295}{1812}, width=85pt, height=38.5pt, xmin=-0.7, xmax=5.7, ymax=5, ytick={0,1,2,3,4,5}, yticklabels={0,1,2,3,4,5}, axis line style={-,line width=1pt}]
\addplot[wb, bar width=0.65] coordinates {(0,35.2) (3,3.8) +- (0,0.13)};
\addplot[cb, bar width=0.65] coordinates {(1,22) (2,20.4) (4,2.35) +- (0,0.3) (5,2.3) +- (0,0.35)};
\addplot[dt=0.6pt] coordinates {(3,4.5) (2.9,4.3) (3.1,4.1) (2.95,4.0) (3.05,3.8) (2.85,3.7) (3.15,3.6) (3,3.5) (3.08,3.3) (4,3.6) (3.9,3.3) (4.1,3.0) (3.95,2.8) (4.05,2.5) (3.85,2.2) (4.15,2.0) (4,1.8) (4.08,1.5) (5,3.5) (4.9,3.4) (5.1,2.8) (4.95,2.5) (5.05,2.2) (4.85,1.9) (5.15,1.5) (5,1.2) (5.08,0.8)};
\draw[line width=1pt] (axis cs:-0.7,5) -- ++(3pt,0pt);
\draw[bk] (axis cs:3,4.7) -- (axis cs:3,8.7) -- (axis cs:5,8.7) -- (axis cs:5,3.7);
\draw[bk] (axis cs:3,6.1) -- (axis cs:4,6.1) -- (axis cs:4,3.8);
\node[st] at (axis cs:4.1,8.7) {***}; \node[st] at (axis cs:3.5,6.1) {****};
\koann{0.66}{2.3}{1.5}\koann{3.6}{5.3}{4.5}
\grpann{-0.81}{2.35}{0.95}{m+0}\grpann{2.45}{5.59}{3.95}{m+2}
\end{axis}
\begin{axis}[bp, pos={295}{1718}, width=85pt, height=51pt, xmin=-0.7, xmax=5.7, axis x line=none, xtick=\empty, ymin=10, ymax=50, ytick={10,20,30,40,50}, yticklabels={10,20,30,40,50}, axis line style={-,line width=1pt}]
\addplot[wb, bar width=0.65] coordinates {(0,35.2) +- (0,1.2)};
\addplot[cb, bar width=0.65] coordinates {(1,22.0) +- (0,1.3) (2,20.4) +- (0,1.2)};
\addplot[dt=0.6pt] coordinates {(0,40) (-0.1,38) (0.1,37) (-0.05,36) (0.05,35) (-0.15,34) (0.15,33) (0,31) (0.08,29) (1,27) (0.9,25.5) (1.1,24) (0.95,22) (1.05,21) (0.85,20) (1.15,19) (1,17) (1.08,14) (2,25) (1.9,24) (2.1,22) (1.95,21) (2.05,20) (1.85,19) (2.15,18) (2,17) (2.08,15)};
\draw[line width=1pt] (axis cs:-0.7,10) -- ++(3pt,0pt);
\draw[bk] (axis cs:0,41.5) -- (axis cs:0,51.2) -- (axis cs:1.41,51.2) -- (axis cs:1.41,30);
\draw[bk] (axis cs:0.62,30) -- (axis cs:2.2,30);
\node[st] at (axis cs:0.75,51.2) {****};
\end{axis}
\begin{axis}[b6, pos={510}{1812}, width=85pt, height=97.5pt, xmin=-0.7, xmax=5.7, ymax=24, ytick={0,3,6,9,12,15,18,21,24}, yticklabels={0,3,6,9,12,15,18,21,24}, axis line style={-,line width=1pt}]
\addplot[wb, bar width=0.65] coordinates {(0,2.5) +- (0,0.3) (3,0.6) +- (0,0.15)};
\addplot[cb, bar width=0.65] coordinates {(1,2.9) +- (0,0.5) (2,7.8) +- (0,2.5) (4,0.3) +- (0,0.05) (5,0.5) +- (0,0.15)};
\addplot[dt=0.6pt] coordinates {(0,3.9) (-0.1,3.5) (0.1,3.0) (-0.05,2.7) (0.05,2.4) (-0.15,2.0) (0.15,1.8) (0,1.5) (0.08,1.2) (1,7.0) (0.9,4.0) (1.1,3.6) (0.95,3.2) (1.05,2.8) (0.85,2.5) (1.15,2.0) (1,1.5) (2,21) (2,19.5) (2,17) (2,13.5) (2.05,9.0) (1.95,6.0) (2.1,3.0) (1.9,1.6) (2.1,1.6) (3,1.1) (2.9,1.0) (3.1,0.8) (2.95,0.6) (3.05,0.5) (2.85,0.3) (4,0.5) (3.9,0.4) (4.1,0.3) (3.95,0.2) (5,1.2) (4.9,1.0) (5.1,0.8) (4.95,0.6) (5.05,0.4)};
\draw[bk] (axis cs:0,4.8) -- (axis cs:0,23.1) -- (axis cs:2,23.1) -- (axis cs:2,21.6);
\node[st] at (axis cs:1,23.1) {*};
\koann{0.66}{2.3}{1.5}\koann{3.6}{5.3}{4.5}
\grpann{-0.81}{2.35}{0.95}{m+0}\grpann{2.45}{5.59}{3.95}{m+2}
\end{axis}
\begin{axis}[b6, pos={735}{1813}, width=85pt, height=62pt, xmin=-0.7, xmax=5.7, ymax=0.89, ytick={0,0.2,0.4,0.6,0.8}, yticklabels={0.0,0.2,0.4,0.6,0.8}, axis line style={-,line width=1pt}]
\addplot[wb, bar width=0.65] coordinates {(0,4.6) (3,0.33) +- (0,0.07)};
\addplot[cb, bar width=0.65] coordinates {(1,3.4) (2,4.1) (4,0.21) +- (0,0.03) (5,0.44) +- (0,0.06)};
\addplot[dt=0.6pt] coordinates {(3,0.67) (2.9,0.64) (3.1,0.59) (2.95,0.56) (3.05,0.50) (2.85,0.40) (3.15,0.28) (3,0.19) (3.08,0.12) (2.92,0.07) (4,0.37) (3.9,0.27) (4.1,0.24) (3.95,0.21) (4.05,0.18) (3.85,0.14) (4.15,0.11) (5,0.84) (4.9,0.67) (5.1,0.61) (4.95,0.56) (5.05,0.43) (4.85,0.36) (5.15,0.29) (5,0.24)};
\draw[line width=1pt] (axis cs:-0.7,0.89) -- ++(3pt,0pt);
\koann{0.66}{2.3}{1.5}\koann{3.6}{5.3}{4.5}
\grpann{-0.81}{2.35}{0.95}{m+0}\grpann{2.45}{5.59}{3.95}{m+2}
\end{axis}
\begin{axis}[bp, pos={735}{1672}, width=85pt, height=27pt, xmin=-0.7, xmax=5.7, axis x line=none, xtick=\empty, ymin=1.25, ymax=8, ytick={2,4,6,8}, yticklabels={2,4,6,8}, axis line style={-,line width=1pt}]
\addplot[wb, bar width=0.65] coordinates {(0,4.6) +- (0,0.4)};
\addplot[cb, bar width=0.65] coordinates {(1,3.4) +- (0,0.3) (2,4.1) +- (0,0.3)};
\addplot[dt=0.6pt] coordinates {(0,7.2) (-0.1,7.0) (0.1,6.5) (-0.05,5.8) (0.05,5.2) (-0.15,4.5) (0.15,4.0) (0,3.5) (0.08,3.0) (-0.08,2.0) (1,6.2) (0.9,5.5) (1.1,4.2) (0.95,3.8) (1.05,3.5) (0.85,3.2) (1.15,3.0) (1,2.6) (1.08,2.1) (2,7.3) (1.9,5.5) (2.1,4.7) (1.95,4.4) (2.05,4.2) (1.85,4.0) (2.15,3.6) (2,3.3) (2.08,2.6)};
\draw[line width=1pt] (axis cs:-0.7,1.25) -- ++(3pt,0pt);
\end{axis}
\begin{axis}[b6, pos={956}{1812}, width=85pt, height=97.5pt, xmin=-0.7, xmax=5.7, ymax=60, ytick={0,20,40,60}, yticklabels={0,20,40,60}, axis line style={-,line width=1pt}]
\addplot[wb, bar width=0.65] coordinates {(0,33) +- (0,4) (3,10.4) +- (0,1.3)};
\addplot[cb, bar width=0.65] coordinates {(1,24.8) +- (0,1.7) (2,25) +- (0,2) (4,7.2) +- (0,0.6) (5,7.9) +- (0,1.3)};
\addplot[dt=0.6pt] coordinates {(0,57.5) (0,48.5) (0,38.5) (-0.05,22.5) (0.05,21.5) (-0.05,20) (0.05,19) (1,35) (0.9,33) (1.1,30) (0.95,26) (1.05,25) (0.85,24) (1.15,22) (1,20) (1.08,17) (2,40.5) (2,38.5) (2.1,29) (1.95,26) (2.05,25) (1.85,23) (2.15,21) (2,19.5) (3,15.5) (2.9,14.5) (3.1,12.5) (2.95,11) (3.05,10) (2.85,9.5) (3.15,9) (3,8) (3.08,7) (4,8.5) (3.9,8) (4.1,7.5) (3.95,7) (4.05,6.5) (3.85,5.5) (4.15,4) (5,10.5) (4.9,10) (5.1,9.5) (4.95,8.5) (5.05,8) (4.85,7) (5.15,5) (5,4)};
\draw[bk] (axis cs:3,16.9) -- (axis cs:3,29.5) -- (axis cs:5,29.5) -- (axis cs:5,10.8);
\draw[bk] (axis cs:3,21.5) -- (axis cs:4,21.5) -- (axis cs:4,9.0);
\node[st] at (axis cs:3.5,21.5) {**};
\node[font=\itshape\fs{10}, anchor=base, inner sep=0pt] at (axis cs:4,31.3) {p=0.08};
\koann{0.66}{2.3}{1.5}\koann{3.6}{5.3}{4.5}
\grpann{-0.81}{2.35}{0.95}{m+0}\grpann{2.45}{5.59}{3.95}{m+2}
\end{axis}

% ================= H
\def\ulY{15.5pt}\def\skY{24pt}
\begin{axis}[b3, pos={1253}{1777}, width=61.5pt, height=76pt, xmin=-0.65, xmax=2.68, ymax=5, ytick={0,1,2,3,4,5}, yticklabels={0,1,2,3,4,5}, ylabel={NAD\textsuperscript{+}/NADH}, axis line style={-,line width=1pt}]
\addplot[wb, bar width=0.63] coordinates {(0,2.85) +- (0,0.35)};
\addplot[cb, bar width=0.63] coordinates {(1,4.0) +- (0,0.45) (2,4.03) +- (0,0.43)};
\draw[bk] (axis cs:0,3.26) -- (axis cs:0,5.07) -- (axis cs:1.51,5.07) -- (axis cs:1.51,4.74);
\draw[bk] (axis cs:0.67,4.74) -- (axis cs:2.35,4.74);
\node[st] at (axis cs:0.75,5.07) {*};
\koone{0.65}{2.48}{1.49}
\end{axis}
\begin{axis}[b3, pos={1446}{1778}, width=61.5pt, height=76.5pt, xmin=-0.6, xmax=2.6, ymax=4, ytick={0,1,2,3,4}, yticklabels={0,1,2,3,4}, ylabel={NADPH/NADP\textsuperscript{+}}, axis line style={-,line width=1pt}]
\addplot[wb, bar width=0.63] coordinates {(0,2.88) +- (0,0.25)};
\addplot[cb, bar width=0.63] coordinates {(1,2.85) +- (0,0.37) (2,2.80) +- (0,0.43)};
\koone{0.78}{2.44}{1.45}
\end{axis}
\end{tikzpicture}
\end{document}
